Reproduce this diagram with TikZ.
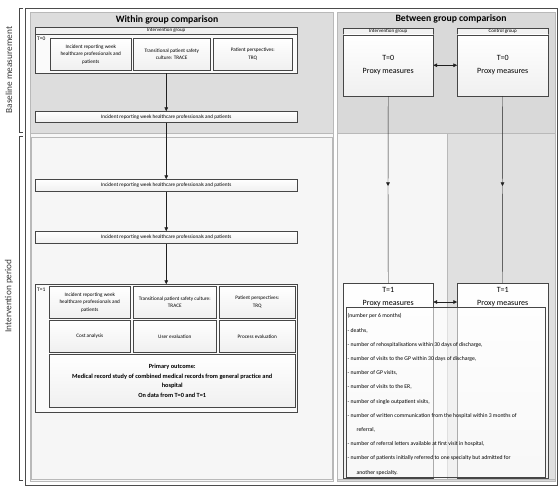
\documentclass[tikz,border=0pt]{standalone}
\usepackage{fontspec}
\setmainfont{Carlito}
\usetikzlibrary{arrows.meta,calc,shadows}
\tikzset{
  panel/.style={draw=gray!55, line width=0.5pt},
  bx/.style={draw=gray!55!black, line width=0.5pt, top color=white, bottom color=gray!12,
    inner sep=1pt, align=center, anchor=north west, font=\fontsize{5.2}{7.6}\selectfont,
    drop shadow={shadow xshift=0.8pt, shadow yshift=-0.8pt, opacity=0.45, fill=black}},
  cont/.style={draw=gray!55!black, line width=0.5pt, fill=gray!4, anchor=north west, inner sep=0pt,
    drop shadow={shadow xshift=0.8pt, shadow yshift=-0.8pt, opacity=0.35, fill=black}},
  hdr/.style={draw=gray!55!black, line width=0.4pt, fill=gray!10, inner sep=0pt, anchor=north west,
    font=\fontsize{5}{5}\selectfont},
  title/.style={font=\bfseries\fontsize{9.7}{11}\selectfont},
  side/.style={rotate=90, font=\fontsize{9.3}{10}\selectfont, text=gray!45!black},
  tlab/.style={anchor=north west, inner sep=0pt, font=\fontsize{5.5}{6}\selectfont},
  proxy/.style={align=center, inner sep=0pt, font=\fontsize{8}{13}\selectfont},
  arr/.style={draw=gray!25!black, line width=0.45pt, -{Triangle[length=3.6pt,width=3.6pt]}},
  dbl/.style={draw=gray!25!black, line width=0.45pt, {Triangle[length=3.6pt,width=3.6pt]}-{Triangle[length=3.6pt,width=3.6pt]}},
  ln/.style={draw=gray!25!black, line width=0.45pt},
}
\begin{document}
\begin{tikzpicture}[x=1pt,y=-1pt]
\useasboundingbox (0,0) rectangle (560,488);
% outer frame and panels
\draw[draw=gray!60!black, line width=0.6pt, fill=white] (25,8) rectangle (557,485);
\draw[panel, fill=gray!6] (30,12) rectangle (333,481);
\draw[panel, fill=gray!27] (30,12) rectangle (333,133);
\draw[panel, fill=gray!7] (31,137) rectangle (332,479);
\draw[panel, fill=gray!30] (337,12) rectangle (555,481);
\draw[panel, fill=gray!7] (337,133) rectangle (447,479);
\draw[panel, fill=gray!24] (447,133) rectangle (555,479);
% side brackets
\draw[gray!55!black, line width=0.6pt] (23,8) -- (19,8) -- (19,132) -- (23,132);
\draw[gray!55!black, line width=0.6pt] (23,136) -- (19,136) -- (19,480) -- (23,480);
\node[side] (lblB) at (9,70) {Baseline measurement};
\node[side] (lblI) at (9,296) {Intervention period};
% titles
\node[title] (tw) at (167,20) {Within group comparison};
\node[title] (tb) at (451,19) {Between group comparison};
% ---- within group
\node[hdr, minimum width=262pt, minimum height=6.5pt] (hdr0) at (35,27) {Intervention group};
\node[cont, minimum width=262pt, minimum height=39pt] (t0c) at (35,33.5) {};
\node[tlab] (t0l) at (37,37) {T=0};
\node[bx, minimum width=81pt, minimum height=32pt] (b01) at (50,38) {Incident reporting week\\healthcare professionals and\\patients};
\node[bx, minimum width=77pt, minimum height=32pt] (b02) at (133,38) {Transitional patient safety\\culture: TRACE};
\node[bx, minimum width=79pt, minimum height=32pt] (b03) at (213,38) {Patient perspectives:\\TRQ};
\node[bx, minimum width=262pt, minimum height=11pt] (w1) at (35,111) {Incident reporting week healthcare professionals and patients};
\node[bx, minimum width=262pt, minimum height=12pt] (w2) at (35,179) {Incident reporting week healthcare professionals and patients};
\node[bx, minimum width=262pt, minimum height=12pt] (w3) at (35,231) {Incident reporting week healthcare professionals and patients};
\node[cont, minimum width=262pt, minimum height=128pt] (t1c) at (35,284) {};
\node[tlab] (t1l) at (37,288) {T=1};
\node[bx, minimum width=81pt, minimum height=32pt] (r11) at (49,286) {Incident reporting week\\healthcare professionals and\\patients};
\node[bx, minimum width=83pt, minimum height=32pt] (r12) at (133,286) {Transitional patient safety culture:\\TRACE};
\node[bx, minimum width=76pt, minimum height=32pt] (r13) at (219,286) {Patient perspectives:\\TRQ};
\node[bx, minimum width=81pt, minimum height=32pt] (r21) at (49,320) {Cost analysis};
\node[bx, minimum width=83pt, minimum height=32pt] (r22) at (133,320) {User evaluation};
\node[bx, minimum width=76pt, minimum height=32pt] (r23) at (219,320) {Process evaluation};
\node[bx, minimum width=246pt, minimum height=53pt, font=\bfseries\fontsize{6.3}{9.4}\selectfont] (prim) at (49,354)
  {Primary outcome:\\Medical record study of combined medical records from general practice and\\hospital\\On data from T=0 and T=1};
\draw[arr] (t0c.south) -- (w1.north);
\draw[arr] (w1.south) -- (w2.north);
\draw[arr] (w2.south) -- (w3.north);
\draw[arr] (w3.south) -- (t1c.north);
% ---- between group
\node[hdr, minimum width=90pt, minimum height=6.5pt] (hdrI) at (343,28) {Intervention group};
\node[bx, minimum width=90pt, minimum height=61pt, proxy] (pI0) at (343,34.5) {T=0\\Proxy measures};
\node[hdr, minimum width=91pt, minimum height=6.5pt] (hdrC) at (457,28) {Control group};
\node[bx, minimum width=91pt, minimum height=61pt, proxy] (pC0) at (457,34.5) {T=0\\Proxy measures};
\draw[dbl] (pI0.east) -- (pC0.west);
\node[bx, minimum width=90pt, minimum height=195pt] (pI1) at (343,283) {};
\node[bx, minimum width=91pt, minimum height=195pt] (pC1) at (457,283) {};
\node[proxy, anchor=north] (pI1t) at ($(pI1.north)+(0,4.5)$) {T=1\\Proxy measures};
\node[proxy, anchor=north] (pC1t) at ($(pC1.north)+(0,4.5)$) {T=1\\Proxy measures};
\draw[dbl] ($(pI1.north east)+(0,19)$) -- ($(pC1.north west)+(0,19)$);
\coordinate (mI) at (388,186);
\coordinate (mC) at (502.5,186);
\draw[arr] (pI0.south) -- (mI);
\draw[ln] (mI) -- (pI1.north);
\draw[arr] (pC0.south) -- (mC);
\draw[ln] (mC) -- (pC1.north);
\node[draw=gray!55!black, line width=0.5pt, fill=white, fill opacity=0.55, anchor=north west,
  minimum width=199pt, minimum height=170pt] (lst) at (346,307) {};
\node[anchor=north west, inner sep=0pt, align=left, font=\fontsize{5.7}{14.2}\selectfont] (lsttxt) at (347.5,313.5)
 {(number per 6 months)\\
 - deaths,\\
 - number of rehospitalisations within 30 days of discharge,\\
 - number of visits to the GP within 30 days of discharge,\\
 - number of GP visits,\\
 - number of visits to the ER,\\
 - number of single outpatient visits,\\
 - number of written communication from the hospital within 3 months of\\
 \hspace*{9pt}referral,\\
 - number of referral letters available at first visit in hospital,\\
 - number of patients initially referred to one specialty but admitted for\\
 \hspace*{9pt}another specialty.};
\end{tikzpicture}
\end{document}
